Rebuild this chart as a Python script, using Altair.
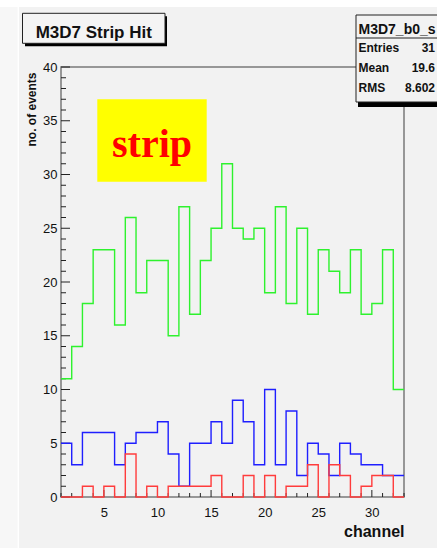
import altair as alt
import pandas as pd

# ---------------- data ----------------
channels = list(range(1, 33))  # bin i covers [i, i+1)
green_hits = [11, 14, 18, 23, 23, 16, 26, 19, 22, 22, 15, 27, 17, 22, 25, 31,
              25, 24, 25, 19, 27, 18, 25, 17, 23, 21, 19, 23, 17, 18, 23, 10]
blue_hits = [5, 3, 6, 6, 6, 3, 5, 6, 6, 7, 4, 1, 5, 5, 7, 5,
             9, 7, 3, 10, 3, 8, 2, 5, 4, 2, 5, 4, 3, 3, 2, 2]
red_hits = [0, 0, 1, 0, 1, 0, 4, 0, 1, 0, 1, 1, 1, 1, 2, 0,
            0, 2, 0, 2, 0, 1, 1, 3, 0, 3, 2, 0, 1, 2, 2, 0]
series_names = ["green", "blue", "red"]
series_colors = ["#2ef22e", "#1f1fff", "#ff3c3c"]

x_domain = [1, 33]
y_domain = [0, 40]
x_label_values = [5, 10, 15, 20, 25, 30]
y_label_values = [0, 5, 10, 15, 20, 25, 30, 35, 40]
x_tick_values = list(range(1, 34))
y_tick_values = list(range(0, 41))

title_text = "M3D7 Strip Hit"
x_title = "channel"
y_title = "no. of events"
tag_text = "strip"
stats_name = "M3D7_b0_s"
stats_labels = ["Entries", "Mean", "RMS"]
stats_values = ["31", "19.6", "8.602"]

# ---------------- build tables ----------------
rows = []
for name, hits in zip(series_names, [green_hits, blue_hits, red_hits]):
    for ch, h in zip(channels, hits):
        rows.append({"edge": ch, "value": h, "series": name})
    rows.append({"edge": channels[-1] + 1, "value": hits[-1], "series": name})
hist_df = pd.DataFrame(rows)

x_major = [{"edge": v} for v in x_tick_values if v % 5 == 0]
x_minor = [{"edge": v} for v in x_tick_values if v % 5 != 0]
y_major = [{"value": v} for v in y_tick_values if v % 5 == 0]
y_minor = [{"value": v} for v in y_tick_values if v % 5 != 0]

W, H = 343, 430
FONT = "Liberation Sans"
BG = "#f2f2f2"

xs = alt.Scale(domain=x_domain, nice=False, zero=False)
ys = alt.Scale(domain=y_domain, nice=False)

x_axis = alt.Axis(values=x_label_values, ticks=False, tickSize=0, domain=False, grid=False,
                  labelFont=FONT, labelFontSize=13, labelColor="#111", labelPadding=9,
                  title=x_title, titleFont=FONT, titleFontSize=16, titleFontWeight="bold",
                  titleColor="#111", titleAlign="right", titleAnchor="end",
                  titleX=W, titleY=39, titleBaseline="alphabetic")
y_axis = alt.Axis(values=y_label_values, ticks=False, tickSize=0, domain=False, grid=False,
                  labelFont=FONT, labelFontSize=13, labelColor="#111", labelPadding=4,
                  title=y_title, titleFont=FONT, titleFontSize=12, titleFontWeight="bold",
                  titleColor="#111", titleAngle=270, titleAlign="right",
                  titleX=-30, titleY=5, titleBaseline="middle")

one = alt.Data(values=[{"k": 1}])


def box(x1, x2, y1, y2, fill, stroke=None, sw=1.0):
    kw = dict(fill=fill)
    if stroke:
        kw.update(stroke=stroke, strokeWidth=sw)
    else:
        kw.update(strokeWidth=0)
    return alt.Chart(one).mark_rect(**kw).encode(
        x=alt.value(x1), x2=alt.value(x2), y=alt.value(y1), y2=alt.value(y2))


def label(txt, x, y, size, align="left", weight="normal", font=FONT, color="#111"):
    return alt.Chart(alt.Data(values=[{"t": txt}])).mark_text(
        align=align, baseline="alphabetic", font=font, fontSize=size,
        fontWeight=weight, color=color).encode(
        x=alt.value(x), y=alt.value(y), text="t:N")


# page decorations
top_strip = box(-61, 400, -67, -60, "#ffffff")
left_strip = box(-61, -43.5, -60, 490, "#f7f7f7")
left_line = box(-43.5, -42, -60, 490, "#ffffff")

# ticks (drawn inside the frame)
x_ticks_major = alt.Chart(alt.Data(values=x_major)).mark_rule(color="#222", strokeWidth=1).encode(
    x=alt.X("edge:Q", scale=xs, axis=x_axis), y=alt.value(H), y2=alt.value(H - 7))
x_ticks_minor = alt.Chart(alt.Data(values=x_minor)).mark_rule(color="#222", strokeWidth=1).encode(
    x=alt.X("edge:Q", scale=xs, axis=x_axis), y=alt.value(H), y2=alt.value(H - 4))
y_ticks_major = alt.Chart(alt.Data(values=y_major)).mark_rule(color="#222", strokeWidth=1).encode(
    y=alt.Y("value:Q", scale=ys, axis=y_axis), x=alt.value(0), x2=alt.value(9))
y_ticks_minor = alt.Chart(alt.Data(values=y_minor)).mark_rule(color="#222", strokeWidth=1).encode(
    y=alt.Y("value:Q", scale=ys, axis=y_axis), x=alt.value(0), x2=alt.value(5))

hist = alt.Chart(hist_df).mark_line(interpolate="step-after", strokeWidth=1.4).encode(
    x=alt.X("edge:Q", scale=xs, axis=x_axis),
    y=alt.Y("value:Q", scale=ys, axis=y_axis),
    color=alt.Color("series:N", scale=alt.Scale(domain=series_names, range=series_colors), legend=None),
    detail="series:N",
)

# "strip" tag
tag_box = box(36.3, 145.7, 32.3, 114.7, "#ffff00")
tag = label(tag_text, 91, 90, 40, align="center", weight="bold", font="Liberation Serif", color="#ff0000")

# title box with shadow
title_shadow = box(-36, 106, -50.7, -20.7, "#000000")
title_box = box(-38.5, 104, -53.7, -23.7, "#f4f4f4", stroke="#222", sw=1)
title = label(title_text, 32.8, -29, 17, align="center", weight="bold")

# stats box with shadow
stats_shadow = box(297, 400, 33, 40, "#000000")
stats_box = box(295, 400, -52, 35, BG, stroke="#222", sw=1)
stats_sep = box(295, 400, -29.5, -28.5, "#222")
stats_title = label(stats_name, 297.5, -33, 14, weight="bold")
stats_layers = []
for i, (lab, val) in enumerate(zip(stats_labels, stats_values)):
    yb = -15.3 + i * 20.2
    stats_layers.append(label(lab, 297.5, yb, 12, weight="bold"))
    stats_layers.append(label(val, 374, yb, 12, align="right", weight="bold"))

chart = alt.layer(
    top_strip, left_strip, left_line,
    x_ticks_minor, x_ticks_major, y_ticks_minor, y_ticks_major,
    hist,
    tag_box, tag,
    title_shadow, title_box, title,
    stats_shadow, stats_box, stats_sep, stats_title, *stats_layers,
).properties(
    width=W, height=H,
    padding={"left": 61, "top": 67, "right": 33, "bottom": 51},
    autosize=alt.AutoSizeParams(type="none"),
).configure(background=BG).configure_view(fill=BG, stroke="#7a7a7a", strokeWidth=1.5)

chart.save("out.html", embed_options={"renderer": "svg", "actions": False})
